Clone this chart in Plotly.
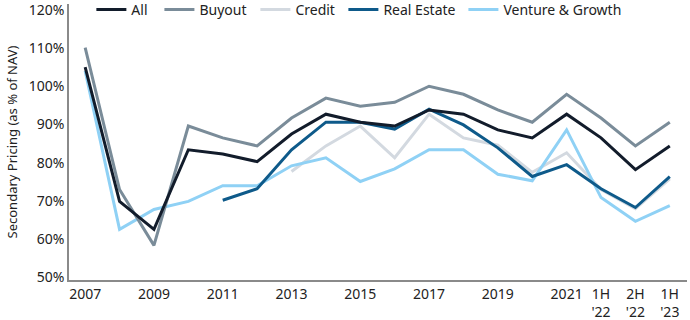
import plotly.graph_objects as go

periods = ["2007", "2008", "2009", "2010", "2011", "2012", "2013", "2014", "2015",
           "2016", "2017", "2018", "2019", "2020", "2021", "1H '22", "2H '22", "1H '23"]

all_vals = [105.0, 69.9, 62.6, 83.4, 82.3, 80.3, 87.5, 92.7, 90.6, 89.6, 93.8, 92.7,
            88.6, 86.5, 92.7, 86.5, 78.2, 84.4]
buyout = [110.1, 73.0, 58.4, 89.6, 86.5, 84.4, 91.7, 96.9, 94.8, 95.8, 100.0, 97.9,
          93.8, 90.6, 97.9, 91.7, 84.4, 90.6]
credit = [None, None, None, None, None, None, 77.7, 84.4, 89.6, 81.3, 92.7, 86.5,
          84.6, 77.5, 82.6, 73.0, 68.0, 75.8]
real_estate = [None, None, None, None, 70.2, 73.2, 83.4, 90.6, 90.6, 88.8, 94.0, 89.9,
               83.9, 76.4, 79.5, 73.2, 68.3, 76.4]
venture = [104.0, 62.6, 67.8, 69.9, 74.0, 74.0, 79.2, 81.3, 75.1, 78.4, 83.4, 83.4,
           77.0, 75.3, 88.6, 70.9, 64.7, 68.8]

tick_vals = ["2007", "2009", "2011", "2013", "2015", "2017", "2019", "2021",
             "1H '22", "2H '22", "1H '23"]
tick_text = ["2007", "2009", "2011", "2013", "2015", "2017", "2019", "2021",
             "1H<br>'22", "2H<br>'22", "1H<br>'23"]
y_ticks = [50, 60, 70, 80, 90, 100, 110, 120]
y_tick_text = [f"{v}%" for v in y_ticks]

series = [
    ("All", all_vals, "#121c2b"),
    ("Buyout", buyout, "#7a8c99"),
    ("Credit", credit, "#d3d9e0"),
    ("Real Estate", real_estate, "#0e5a8a"),
    ("Venture & Growth", venture, "#8fd1f5"),
]
legend_x = {"All": 0.0362, "Buyout": 0.1463, "Credit": 0.3016,
            "Real Estate": 0.4440, "Venture & Growth": 0.6382}
legend_id = {name: ("legend" if i == 0 else f"legend{i + 1}")
             for i, (name, _, _) in enumerate(series)}

draw_order = ["Credit", "Venture & Growth", "Buyout", "Real Estate", "All"]

fig = go.Figure()
for name in draw_order:
    vals, color = next((v, c) for n, v, c in series if n == name)
    fig.add_trace(go.Scatter(
        x=periods, y=vals, name=name, mode="lines",
        line=dict(color=color, width=3),
        legend=legend_id[name],
        connectgaps=False,
    ))

font_family = "Noto Sans, Open Sans, sans-serif"
layout_legends = {}
for name, _, _ in series:
    layout_legends[legend_id[name]] = dict(
        orientation="h", x=legend_x[name], y=1.0365, xanchor="left", yanchor="top",
        bgcolor="rgba(0,0,0,0)", font=dict(size=14), itemwidth=30)

fig.update_layout(
    width=690, height=320,
    margin=dict(l=69, r=3, t=4, b=40, autoexpand=False),
    paper_bgcolor="white", plot_bgcolor="white",
    font=dict(family=font_family, size=14, color="#222222"),
    showlegend=True,
    **layout_legends,
)
fig.update_xaxes(
    type="category", categoryorder="array", categoryarray=periods,
    range=[-0.47, 17.5],
    tickmode="array", tickvals=tick_vals, ticktext=tick_text,
    showgrid=False, showline=True, linecolor="#8a8a8a", linewidth=1.5,
    ticks="", tickfont=dict(size=14), zeroline=False, automargin=False,
    ticklabeloverflow="allow",
)
fig.update_yaxes(
    range=[49.35, 121.5], tickmode="array", tickvals=y_ticks, ticktext=y_tick_text,
    showgrid=False, showline=True, linecolor="#8a8a8a", linewidth=1.5,
    ticks="", tickfont=dict(size=14), zeroline=False, automargin=False,
    ticklabeloverflow="allow",
    title=dict(text="Secondary Pricing (as % of NAV)", font=dict(size=13), standoff=8),
)

fig.write_html("out.html")
